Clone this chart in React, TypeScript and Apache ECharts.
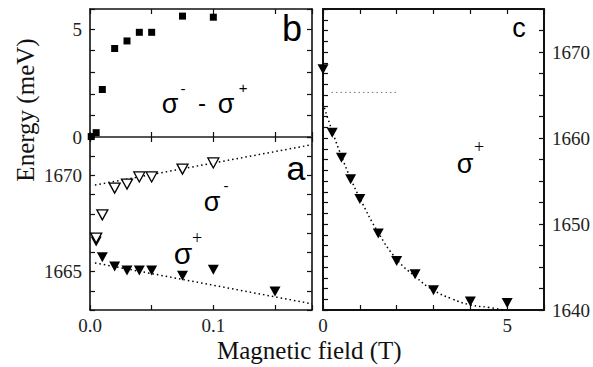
import React, { useEffect, useRef } from "react";
import * as echarts from "echarts";

// Panel b: sigma- minus sigma+ splitting (meV) vs field (T)
const diffField = [0.001, 0.005, 0.01, 0.02, 0.03, 0.04, 0.05, 0.075, 0.1];
const diffEnergy = [0.02, 0.2, 2.2, 4.1, 4.45, 4.85, 4.85, 5.6, 5.55];

// Panel a: low field energies (meV)
const lowField = [0.005, 0.01, 0.02, 0.03, 0.04, 0.05, 0.075, 0.1];
const sigmaMinusE = [1666.74, 1667.95, 1669.34, 1669.55, 1669.92, 1669.92, 1670.33, 1670.65];
const sigmaPlusField = [0.005, 0.01, 0.02, 0.03, 0.04, 0.05, 0.075, 0.1, 0.15];
const sigmaPlusE = [1666.56, 1665.75, 1665.26, 1665.05, 1665.05, 1665.05, 1664.78, 1665.09, 1663.96];
const fitMinus = [[0.004, 1669.5], [0.18, 1671.6]];
const fitPlus = [[0.004, 1665.45], [0.18, 1663.32]];

// Panel c: high field sigma+ energies
const highField = [0, 0.25, 0.5, 0.75, 1.0, 1.5, 2.0, 2.5, 3.0, 4.0, 5.0];
const highE = [1668, 1660.6, 1657.7, 1655.2, 1652.9, 1648.9, 1645.7, 1644.15, 1642.3, 1641.0, 1640.8];
const curveField = [0, 0.25, 0.5, 0.75, 1.0, 1.5, 2.0, 2.5, 3.0, 3.5, 4.0, 4.5, 4.9];
const curveE = [1664, 1660.8, 1657.9, 1655.3, 1653.0, 1649.0, 1645.9, 1643.9, 1642.3, 1641.3, 1640.6, 1640.3, 1640.0];
const refLine = [[0.23, 1665.3], [2.0, 1665.3]];

// Tick labels
const bLabels = [0, 5];
const aLabels = [1665, 1670];
const cLabels = [1640, 1650, 1660, 1670];
const lowFieldLabels = [0, 0.1];
const highFieldLabels = [0, 5];

const SERIF = "Liberation Serif";
const SANS = "Liberation Sans";

const has = (arr: number[], v: number) => arr.some((a) => Math.abs(a - v) < 1e-9);

const tickLabel = {
  fontFamily: SERIF,
  fontSize: 19,
  color: "#222",
};

function boxAxis(gridIndex: number, pos: string, min: number, max: number, interval: number, extra: any = {}) {
  return {
    gridIndex,
    type: "value",
    position: pos,
    min,
    max,
    interval,
    axisLine: { show: true, onZero: false, lineStyle: { color: "#111", width: 1.6 } },
    axisTick: { show: true, inside: true, length: 5, lineStyle: { color: "#111", width: 1.2 } },
    axisLabel: { show: false },
    splitLine: { show: false },
    ...extra,
  };
}

export default function App() {
  const ref = useRef<HTMLDivElement>(null);
  useEffect(() => {
    if (!ref.current) return;
    const chart = echarts.init(ref.current, undefined, { renderer: "svg" });
    const tri = (fill: string) => ({
      type: "scatter",
      symbol: "triangle",
      symbolRotate: 180,
      symbolSize: [11, 10],
      itemStyle: { color: fill, opacity: 1, borderColor: "#000", borderWidth: fill === "#fff" ? 1.3 : 0 },
      z: 3,
    });
    const dotted = (color = "#000", width = 1.5) => ({
      type: "line",
      showSymbol: false,
      symbol: "none",
      lineStyle: { color, width, type: [1.5, 3] },
      z: 2,
    });
    const txt = (x: number, y: number, text: string, family: string, size: number, fill = "#000", align = "center") => ({
      type: "text",
      x,
      y,
      style: { legacy: false, text, fontFamily: family, fontSize: size, fill, align, verticalAlign: "middle" },
    });
    const option: any = {
      animation: false,
      backgroundColor: "#fff",
      textStyle: { fontFamily: SERIF },
      grid: [
        { left: 90, top: 9, width: 222, height: 128 },
        { left: 90, top: 137, width: 222, height: 173 },
        { left: 323, top: 9, width: 222, height: 301 },
      ],
      xAxis: [
        boxAxis(0, "bottom", 0, 0.18, 0.05, {
          axisLine: { show: true, onZero: false, lineStyle: { color: "#555", width: 2.2 } },
        }),
        boxAxis(0, "top", 0, 0.18, 0.05),
        boxAxis(1, "bottom", 0, 0.18, 0.05, {
          axisLabel: {
            show: true,
            margin: 6,
            ...tickLabel,
            formatter: (v: number) => (has(lowFieldLabels, v) ? v.toFixed(1) : ""),
          },
        }),
        boxAxis(1, "top", 0, 0.18, 0.05, {
          axisLine: { show: true, onZero: false, lineStyle: { color: "#555", width: 2.2 } },
        }),
        boxAxis(2, "bottom", 0, 6, 1, {
          axisLine: { show: true, onZero: false, lineStyle: { color: "#111", width: 2 } },
          axisLabel: {
            show: true,
            margin: 6,
            ...tickLabel,
            formatter: (v: number) => (has(highFieldLabels, v) ? String(v) : ""),
          },
        }),
        boxAxis(2, "top", 0, 6, 1, {
          axisLine: { show: true, onZero: false, lineStyle: { color: "#111", width: 2 } },
        }),
      ],
      yAxis: [
        boxAxis(0, "left", 0, 5.93, 1, {
          axisLabel: {
            show: true,
            margin: 8,
            ...tickLabel,
            formatter: (v: number) => (has(bLabels, v) ? String(v) : ""),
          },
        }),
        boxAxis(0, "right", 0, 5.93, 1),
        boxAxis(1, "left", 1663, 1672, 1, {
          axisLabel: {
            show: true,
            margin: 8,
            ...tickLabel,
            formatter: (v: number) => (has(aLabels, v) ? String(v) : ""),
          },
        }),
        boxAxis(1, "right", 1663, 1672, 1),
        boxAxis(2, "left", 1640, 1675, 1.25, {
          axisLine: { show: true, onZero: false, lineStyle: { color: "#111", width: 2 } },
        }),
        boxAxis(2, "right", 1640, 1675, 2.5, {
          axisLine: { show: true, onZero: false, lineStyle: { color: "#111", width: 2 } },
          axisLabel: {
            show: true,
            margin: 8,
            ...tickLabel,
            formatter: (v: number) => (has(cLabels, v) ? String(v) : ""),
          },
        }),
      ],
      series: [
        {
          type: "scatter",
          xAxisIndex: 0,
          yAxisIndex: 0,
          symbol: "rect",
          symbolSize: 7,
          itemStyle: { color: "#000", opacity: 1 },
          data: diffField.map((x, i) => [x, diffEnergy[i]]),
          z: 3,
        },
        { ...dotted(), xAxisIndex: 2, yAxisIndex: 2, data: fitMinus },
        { ...dotted(), xAxisIndex: 2, yAxisIndex: 2, data: fitPlus },
        { ...tri("#000"), xAxisIndex: 2, yAxisIndex: 2, data: sigmaPlusField.map((x, i) => [x, sigmaPlusE[i]]) },
        { ...tri("#fff"), xAxisIndex: 2, yAxisIndex: 2, data: lowField.map((x, i) => [x, sigmaMinusE[i]]) },
        { ...dotted(), smooth: true, xAxisIndex: 4, yAxisIndex: 5, data: curveField.map((x, i) => [x, curveE[i]]) },
        { ...dotted("#777", 1), xAxisIndex: 4, yAxisIndex: 5, data: refLine },
        { ...tri("#000"), xAxisIndex: 4, yAxisIndex: 5, data: highField.map((x, i) => [x, highE[i]]) },
      ],
      graphic: [
        txt(292, 28, "b", SANS, 36),
        txt(296, 168, "a", SANS, 34),
        txt(519, 28, "c", SANS, 27),
        // panel b label: σ- − σ+
        txt(170, 104, "σ", SANS, 27),
        txt(183, 88, "-", SANS, 15),
        txt(202, 102, "-", SANS, 24),
        txt(226, 104, "σ", SANS, 27),
        txt(243, 87, "+", SANS, 15),
        // panel a labels
        txt(212, 202, "σ", SANS, 27),
        txt(226, 185, "-", SANS, 15),
        txt(183, 253, "σ", SANS, 30),
        txt(197, 238, "+", SERIF, 18),
        // panel c label
        txt(465, 164, "σ", SANS, 27),
        txt(479, 147, "+", SERIF, 18),
        // axis titles
        { ...txt(25, 110, "Energy (meV)", SERIF, 25, "#111"), rotation: Math.PI / 2 },
        txt(217, 350, "Magnetic field (T)", SERIF, 25, "#111", "left"),
      ],
    };
    chart.setOption(option);
    return () => chart.dispose();
  }, []);
  return (
    <div
      ref={ref}
      style={{ position: "absolute", left: 0, top: 0, width: 593, height: 367, fontFamily: "Liberation Serif" }}
    />
  );
}
